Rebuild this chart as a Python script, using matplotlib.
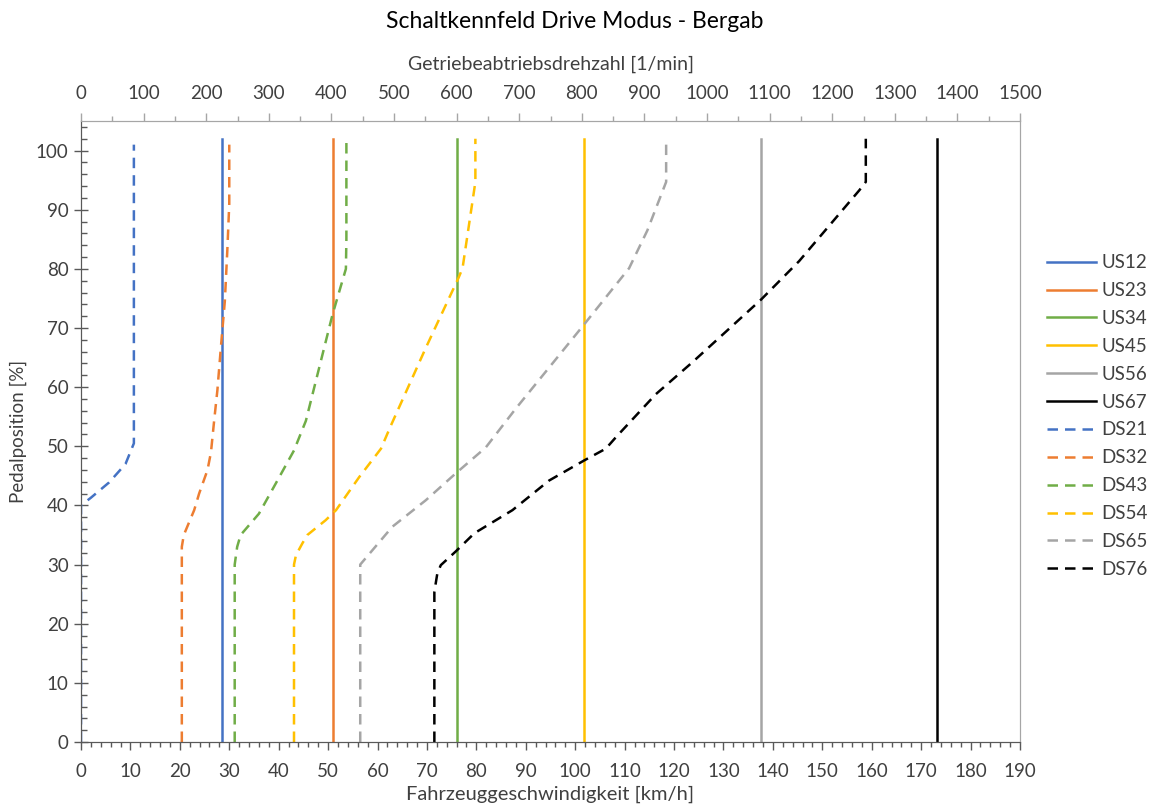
import matplotlib
matplotlib.use("Agg")
import matplotlib.pyplot as plt
from matplotlib.ticker import MultipleLocator

plt.rcParams['font.family'] = ['Lato', 'DejaVu Sans']

# Hochschaltlinien (konstante Geschwindigkeit)
us_namen = ["US12", "US23", "US34", "US45", "US56", "US67"]
us_speed = [28.6, 51.0, 76.0, 101.8, 137.6, 173.3]
us_pedal = [0, 102]

# Rueckschaltlinien
ds21_v = [0, 0, 2.0, 5.7, 9.0, 10.7, 10.7]
ds21_p = [0, 40, 41.3, 43.9, 47, 50.5, 101]
ds32_v = [20.4, 20.4, 20.8, 21.5, 22.9, 23.9, 25.6, 26.3, 26.9, 27.6, 28.3, 29.1, 29.6, 30.0, 30.0]
ds32_p = [0, 33, 35, 36.4, 39.2, 42, 46, 49, 54, 59.5, 66.7, 74.5, 83, 91, 101]
ds43_v = [31.1, 31.1, 31.6, 32.3, 36.0, 39.4, 43.1, 45.5, 50.9, 53.6, 53.7, 53.7]
ds43_p = [0, 30, 33, 35, 38.6, 43.7, 49.3, 54.3, 72.3, 80, 85, 102]
ds54_v = [43.1, 43.1, 43.5, 44.8, 45.8, 49.5, 51.6, 56.3, 60.7, 62.7, 69.8, 76.4, 77.2, 79.8, 79.8]
ds54_p = [0, 30, 31.6, 33.6, 35, 37.5, 39.2, 44.8, 49.6, 53.5, 66.7, 78.5, 80.1, 94.7, 102]
ds65_v = [56.5, 56.5, 63.0, 69.8, 75.8, 81.9, 88.0, 101.8, 110.9, 114.6, 118.4, 118.4]
ds65_p = [0, 30, 36.4, 40.9, 45.4, 49.8, 56.4, 70.6, 80.1, 86.5, 94.7, 101]
ds76_v = [71.5, 71.5, 72.1, 72.8, 75.8, 79.6, 87.3, 94.7, 101.8, 106.2, 108.2, 116.3,
          123.7, 137.6, 145.3, 157.5, 158.8, 158.8]
ds76_p = [0, 25.4, 28.5, 29.9, 32.2, 35.3, 39.2, 44.2, 47.6, 49.6, 51.5, 58.8,
          64.2, 74.8, 81.3, 93.3, 94.7, 102]

ds_namen = ["DS21", "DS32", "DS43", "DS54", "DS65", "DS76"]
ds_daten = [(ds21_v, ds21_p), (ds32_v, ds32_p), (ds43_v, ds43_p),
            (ds54_v, ds54_p), (ds65_v, ds65_p), (ds76_v, ds76_p)]

farben = ["#4472C4", "#ED7D31", "#70AD47", "#FFC000", "#A5A5A5", "#000000"]
textfarbe = "#404040"

fig = plt.figure(figsize=(11.49, 8.09), dpi=100)
ax = fig.add_axes([81 / 1149, 67 / 809, 939 / 1149, 621 / 809])

for name, v, farbe in zip(us_namen, us_speed, farben):
    ax.plot([v, v], us_pedal, color=farbe, lw=1.8, label=name)
for name, (v, p), farbe in zip(ds_namen, ds_daten, farben):
    ax.plot(v, p, color=farbe, lw=1.8, dashes=(4.2, 2.8), label=name)

ax.set_xlim(0, 190)
ax.set_ylim(0, 105)
ax.xaxis.set_major_locator(MultipleLocator(10))
ax.xaxis.set_minor_locator(MultipleLocator(2))
ax.yaxis.set_major_locator(MultipleLocator(10))
ax.yaxis.set_minor_locator(MultipleLocator(2))
ax.set_yticks(range(0, 101, 10))
ax.tick_params(axis='x', which='major', direction='out', length=6, width=1, colors='#595959',
               labelcolor=textfarbe, labelsize=13.5, pad=9)
ax.tick_params(axis='x', which='minor', direction='out', length=3.5, width=1, colors='#595959')
ax.tick_params(axis='y', which='major', direction='inout', length=10, width=1, colors='#595959',
               labelcolor=textfarbe, labelsize=13.5, pad=4)
ax.tick_params(axis='y', which='minor', direction='in', length=4.5, width=1, colors='#595959')
ax.spines['left'].set_color('#595959')
ax.spines['bottom'].set_color('#595959')
ax.spines['right'].set_color('#A6A6A6')
ax.spines['top'].set_color('#A6A6A6')
ax.set_xlabel("Fahrzeuggeschwindigkeit [km/h]", fontsize=14.5, color=textfarbe, labelpad=4)
ax.set_ylabel("Pedalposition [%]", fontsize=13.5, color=textfarbe, labelpad=6)

# zweite x-Achse oben: Drehzahl
ax2 = ax.twiny()
ax2.set_xlim(0, 1500)
ax2.xaxis.set_major_locator(MultipleLocator(100))
ax2.xaxis.set_minor_locator(MultipleLocator(50))
ax2.tick_params(axis='x', which='major', direction='out', length=6, width=1, colors='#A6A6A6',
                labelcolor=textfarbe, labelsize=13.5, pad=8)
ax2.tick_params(axis='x', which='minor', direction='out', length=3.5, width=1, colors='#A6A6A6')
ax2.spines['top'].set_color('#A6A6A6')
ax2.spines['right'].set_color('#A6A6A6')
ax2.spines['left'].set_color('#595959')
ax2.spines['bottom'].set_color('#595959')
ax2.set_xlabel("Getriebeabtriebsdrehzahl [1/min]", fontsize=14, color=textfarbe, labelpad=11)

fig.suptitle("Schaltkennfeld Drive Modus - Bergab", fontsize=16.5, color='#000000', y=0.986)

handles, labels = ax.get_legend_handles_labels()
fig.legend(handles, labels, loc='center left', bbox_to_anchor=(1030 / 1149, 1 - 416 / 809),
           frameon=False, fontsize=13.5, labelspacing=0.58, handlelength=2.6, handletextpad=0.3,
           labelcolor=textfarbe)

fig.savefig("out.png", dpi=100)
